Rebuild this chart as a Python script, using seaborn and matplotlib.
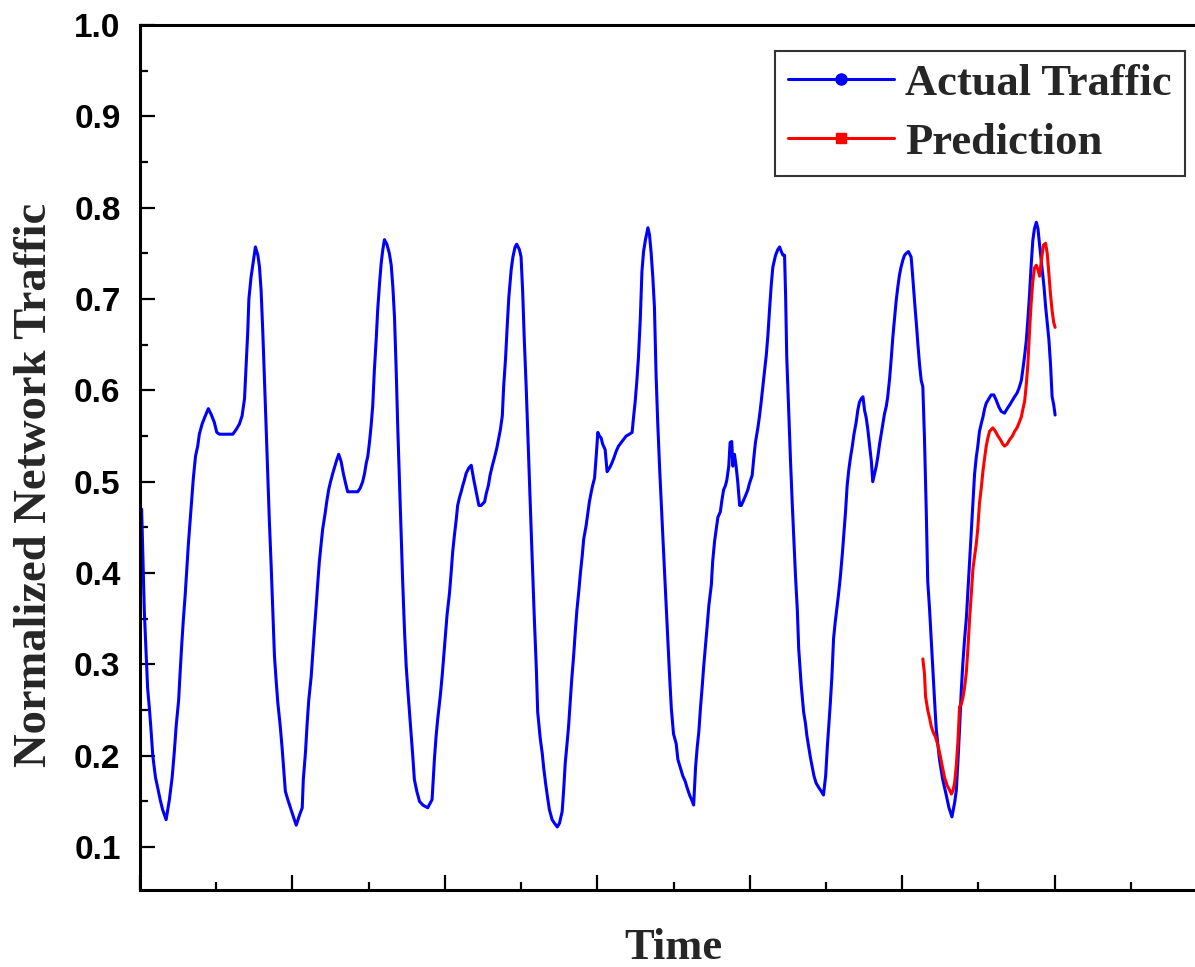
import numpy as np
import pandas as pd
import matplotlib
matplotlib.use("Agg")
import matplotlib.pyplot as plt
from matplotlib.lines import Line2D
from matplotlib.ticker import MultipleLocator, FormatStrFormatter
import seaborn as sns

# ---------------- data (time index, normalized traffic) ----------------
actual_t = [0.6, 1.6, 2.2, 2.8, 3.5, 4.1, 4.7, 5.7, 6.5, 7.4, 8.3, 9.6, 10.8, 11.8, 12.6, 13.3, 14.2, 14.7, 15.3, 15.9,
            16.6, 17.2, 17.8, 18.4, 19.0, 19.6, 20.4, 21.2, 21.8, 22.8, 23.7, 25.1, 26.1, 27.3, 28.2, 29.2, 34.1, 35.3,
            36.5, 37.5, 38.4, 39.0, 39.6, 40.0, 40.8, 41.7, 42.4, 43.3, 43.9, 44.5, 45.1, 45.7, 46.3, 46.9, 47.5, 48.2,
            48.8, 49.4, 50.0, 50.6, 51.5, 52.2, 52.8, 53.4, 54.3, 55.5, 56.7, 57.4, 58.6, 59.6, 60.0, 60.8, 61.4, 62.0,
            62.9, 63.5, 64.1, 64.7, 65.3, 65.9, 66.5, 67.1, 68.0, 68.6, 69.3, 70.0, 70.8, 71.4, 72.3, 73.0, 73.9, 74.7,
            75.7, 76.3, 80.0, 80.9, 81.8, 82.5, 83.1, 83.7, 84.3, 84.9, 85.5, 86.1, 86.8, 87.3, 88.0, 88.6, 89.2, 89.8,
            90.7, 91.6, 92.3, 92.9, 93.5, 94.1, 94.7, 95.3, 95.9, 96.5, 97.2, 97.8, 98.4, 99.0, 99.6, 100.2, 100.8,
            101.7, 102.7, 103.9, 105.7, 107.3, 108.2, 108.8, 109.4, 110.3, 111.0, 111.6, 112.2, 112.8, 113.7, 114.3,
            114.9, 115.5, 116.2, 116.7, 117.4, 118.0, 118.6, 119.2, 119.8, 120.8, 121.7, 122.5, 123.5, 124.5, 125.3,
            126.6, 127.2, 128.0, 128.6, 129.4, 130.2, 131.1, 131.8, 132.4, 133.1, 133.6, 134.3, 134.9, 135.5, 136.4,
            137.0, 137.8, 138.4, 139.4, 140.0, 140.6, 141.2, 141.9, 142.5, 143.1, 143.7, 144.3, 144.9, 145.6, 146.1,
            147.0, 147.8, 148.3, 149.0, 149.6, 150.4, 151.4, 152.3, 153.3, 154.1, 155.1, 155.7, 156.2, 156.8, 157.4,
            158.0, 158.6, 159.3, 159.9, 160.5, 161.2, 161.8, 162.5, 163.0, 163.9, 164.5, 165.1, 165.8, 166.3, 167.0,
            167.6, 168.2, 168.8, 169.4, 170.0, 170.9, 171.6, 172.5, 173.3, 174.1, 174.9, 175.8, 176.8, 177.6, 178.6,
            179.8, 180.8, 181.3, 181.9, 182.5, 183.1, 183.8, 184.4, 185.0, 185.7, 186.6, 187.2, 187.8, 188.4, 189.0,
            189.6, 190.2, 190.9, 191.5, 192.1, 192.7, 193.3, 193.9, 194.5, 195.2, 196.0, 197.0, 197.6, 198.5, 199.4,
            200.3, 201.0, 201.9, 202.9, 203.4, 204.1, 204.7, 205.3, 205.9, 206.5, 207.1, 207.8, 208.4, 209.0, 209.9,
            210.4, 211.1, 211.7, 212.3, 213.2, 213.8, 214.4, 215.1, 215.6, 216.3, 216.8, 217.4, 217.8, 218.4, 219.0,
            219.6, 220.3, 220.9, 221.5, 222.5, 223.3, 223.9, 224.9, 225.5, 226.1, 227.0, 227.6, 228.2, 228.8, 229.4,
            230.1, 230.7, 231.3, 231.9, 232.5, 233.5, 234.3, 235.0, 235.6, 236.2, 236.8, 237.2, 237.6, 238.4, 239.0,
            239.6, 240.2, 240.8, 241.5, 242.0, 242.9, 243.8, 244.5, 245.0, 245.7, 246.3, 247.0, 247.6, 248.4, 249.4,
            250.3, 251.1, 251.9, 252.5, 253.1, 253.6, 254.2, 254.8, 255.4, 256.0, 256.6, 257.3, 258.0, 258.6, 259.2,
            259.8, 260.4, 261.0, 261.7, 262.3, 263.1, 263.7, 264.3, 265.0, 265.6, 266.2, 266.8, 267.4, 268.0, 268.7,
            269.2, 269.9, 270.5, 271.1, 271.7, 272.3, 272.9, 273.5, 274.2, 274.7, 275.4, 276.0, 276.6, 277.2, 277.8,
            278.4, 279.0, 279.6, 280.3, 280.9, 281.5, 282.3, 283.3, 283.9, 284.6, 285.2, 285.8, 286.4, 287.0, 287.6,
            288.2, 288.9, 289.4, 290.1, 290.7, 291.3, 291.9, 292.5, 293.1, 293.7, 294.4, 294.9, 295.6, 296.2, 297.2,
            298.3, 299.3, 299.9, 300.5, 301.1, 301.7, 302.3, 302.9, 303.6, 304.2, 304.8, 305.4, 306.0, 306.6, 307.2,
            307.8, 308.4, 309.1, 309.7, 310.3, 310.9, 311.9, 312.7, 313.7, 314.6, 315.5, 316.4, 317.6, 318.6, 319.5,
            320.5, 321.3, 322.2, 322.9, 323.8, 324.4, 325.0, 325.6, 326.2, 326.8, 327.4, 328.0, 328.6, 329.3, 329.9,
            330.5, 331.3, 332.1, 332.7, 333.3, 333.9, 334.5, 335.1, 335.7, 336.2]
actual_v = [.47, .357, .315, .274, .25, .226, .2, .176, .165, .152, .141, .13, .152, .176, .204, .233, .261, .289, .32, .348,
            .376, .404, .433, .457, .482, .504, .528, .539, .552, .563, .57, .58, .574, .565, .554, .552, .552, .557,
            .563, .572, .591, .628, .665, .7, .724, .743, .757, .748, .735, .709, .665, .615, .563, .511, .459, .407,
            .357, .309, .283, .259, .233, .209, .185, .161, .152, .141, .13, .124, .135, .143, .174, .204, .235, .261,
            .287, .313, .339, .363, .389, .413, .43, .448, .465, .478, .491, .5, .509, .515, .524, .53, .522, .509,
            .496, .489, .489, .493, .5, .509, .52, .528, .543, .561, .583, .622, .657, .687, .717, .739, .754, .765,
            .76, .75, .737, .713, .68, .624, .559, .502, .448, .391, .335, .298, .272, .248, .224, .2, .174,
            .161, .15, .146, .143, .152, .198, .222, .241, .265, .287, .309, .33, .354, .378, .4,
            .424, .441, .459, .474, .483, .489, .496, .502, .509, .515, .518, .504, .489, .474, .474,
            .478, .487, .496, .507, .517, .526, .537, .548, .557, .572, .604, .635, .67, .702, .733,
            .746, .757, .76, .754, .746, .707, .654, .602, .55, .5, .448, .398, .348, .296, .248,
            .22, .202, .187, .17, .157, .141, .13, .126, .122, .126, .139, .165, .191, .211, .23,
            .257, .283, .309, .335, .359, .38, .4, .42, .437, .452, .465, .478, .489, .496, .504,
            .528, .554, .55, .548, .541, .535, .511, .515, .52, .526, .533, .539, .543, .546, .55,
            .552, .554, .57, .587, .609, .635, .678, .73, .752, .765, .778, .77, .75, .724, .691,
            .617, .565, .515, .476, .439, .402, .365, .328, .291, .252, .224, .213, .196, .187, .178,
            .172, .165, .157, .15, .146, .187, .209, .226, .252, .274, .298, .322, .343, .365, .387,
            .413, .435, .448, .461, .467, .48, .491, .496, .502, .517, .543, .544, .517, .53, .517,
            .5, .474, .474, .478, .485, .491, .498, .507, .526, .543, .559, .572, .587, .604, .62,
            .639, .661, .689, .715, .735, .748, .754, .757, .752, .748, .748, .702, .637, .57, .522,
            .478, .439, .398, .359, .317, .278, .248, .235, .222, .209, .198, .187, .178, .17, .165,
            .161, .157, .178, .209, .235, .257, .287, .328, .346, .361, .376, .396, .42, .443, .467,
            .496, .513, .526, .539, .552, .565, .578, .587, .591, .593, .578, .57, .557, .541, .522,
            .5, .509, .517, .528, .541, .552, .563, .574, .583, .593, .613, .635, .659, .678, .698,
            .713, .726, .735, .743, .748, .75, .752, .746, .724, .696, .674, .65, .628, .611, .604,
            .548, .463, .391, .359, .326, .293, .261, .23, .213, .196, .183, .174, .165, .157, .143,
            .133, .149, .162, .194, .23, .27, .301, .326, .351, .382, .413, .445, .476, .508, .526,
            .539, .555, .564, .571, .58, .586, .591, .595, .595, .589, .582, .577, .575, .58, .584,
            .589, .593, .597, .602, .611, .624, .638, .654, .678, .705, .737, .764, .777, .784, .777,
            .759, .737, .714, .692, .674, .656, .629, .593, .584, .573]

pred_t = [287.6, 288.2, 288.6, 289.4, 290.1, 290.7, 291.5, 292.2, 293.1, 294.0, 294.7, 295.6, 296.6, 297.5, 298.1,
          298.7, 299.3, 299.9, 300.5, 301.1, 301.7, 302.3, 302.9, 303.6, 304.2, 304.8, 305.4, 306.0, 306.6, 307.2,
          307.8, 308.4, 309.1, 309.7, 310.3, 310.9, 311.5, 312.1, 313.3, 314.3, 315.2, 316.1, 317.0, 317.6, 318.5,
          319.5, 320.5, 321.3, 322.2, 322.9, 323.8, 324.4, 325.0, 325.6, 326.2, 326.8, 327.4, 328.0, 328.6, 329.3,
          329.9, 330.5, 331.1, 331.9, 332.7, 333.3, 333.9, 334.5, 335.1, 335.7, 336.2]
pred_v = [.306, .29, .265, .25, .241, .232, .225, .221, .212, .2, .189, .176, .167, .162, .158,
          .162, .171, .189, .216, .254, .256, .263, .274, .292, .319, .351, .377, .404, .418, .431,
          .449, .476, .494, .512, .526, .539, .548, .555, .559, .555, .55, .546, .541, .539, .541,
          .546, .55, .555, .559, .564, .571, .58, .588, .606, .629, .665, .696, .719, .734, .737,
          .732, .725, .741, .759, .761, .75, .728, .705, .687, .674, .669]

series_names = ["Actual Traffic", "Prediction"]
series_colors = ["#0000FF", "#FF0000"]
y_ticks = [0.1, 0.2, 0.3, 0.4, 0.5, 0.6, 0.7, 0.8, 0.9, 1.0]

df = pd.concat([
    pd.DataFrame({"t": actual_t, "v": actual_v, "series": series_names[0]}),
    pd.DataFrame({"t": pred_t, "v": pred_v, "series": series_names[1]}),
], ignore_index=True)

# ---------------- figure ----------------
sns.set_theme(style="ticks")
plt.rcParams["font.family"] = ["Liberation Serif", "DejaVu Serif"]

W, H = 1195, 967
fig = plt.figure(figsize=(W / 100, H / 100), dpi=100)
left, right, top, bottom = 140, 1207, 25, 890
ax = fig.add_axes([left / W, (H - bottom) / H, (right - left) / W, (bottom - top) / H])

for name, col in zip(series_names, series_colors):
    sub = df[df["series"] == name]
    sns.lineplot(data=sub, x="t", y="v", ax=ax, color=col, lw=2.2,
                 estimator=None, sort=False, legend=False)

ax.set_xlim(0, 392)
ax.set_ylim(0.053, 1.0)
ax.xaxis.set_major_locator(MultipleLocator(56))
ax.xaxis.set_minor_locator(MultipleLocator(28))
ax.set_xticklabels([])
ax.set_yticks(y_ticks)
ax.yaxis.set_minor_locator(MultipleLocator(0.05))
ax.yaxis.set_major_formatter(FormatStrFormatter("%.1f"))

for s in ["left", "bottom", "top", "right"]:
    ax.spines[s].set_linewidth(2.2)
    ax.spines[s].set_color("black")

ax.tick_params(axis="both", which="major", direction="in", length=11, width=1.6, color="black")
ax.tick_params(axis="both", which="minor", direction="in", length=6, width=1.6, color="black")
ax.tick_params(axis="y", which="both", right=False, pad=14)
ax.tick_params(axis="x", which="both", top=False)
for lab in ax.get_yticklabels():
    lab.set_fontfamily("Liberation Sans")
    lab.set_fontweight("bold")
    lab.set_fontsize(24)
    lab.set_color("black")

ax.set_xlabel("Time", fontsize=32, fontweight="bold", labelpad=24)
ax.set_ylabel("Normalized Network Traffic", fontsize=33.5, fontweight="bold", labelpad=13, y=0.468)

handles = [
    Line2D([], [], color=series_colors[0], lw=2.2, marker="o", markersize=8),
    Line2D([], [], color=series_colors[1], lw=2.2, marker="s", markersize=7),
]
leg = ax.legend(handles, series_names, loc="upper right",
                bbox_to_anchor=(1185 / W, 1 - 51 / H), bbox_transform=fig.transFigure,
                borderaxespad=0, frameon=True, fancybox=False, edgecolor="black",
                prop={"family": "Liberation Serif", "weight": "bold", "size": 32},
                handlelength=2.4, handletextpad=0.25, labelspacing=0.42, borderpad=0.29)
leg.get_frame().set_linewidth(1.5)

fig.savefig("out.png", dpi=100, facecolor="white")
